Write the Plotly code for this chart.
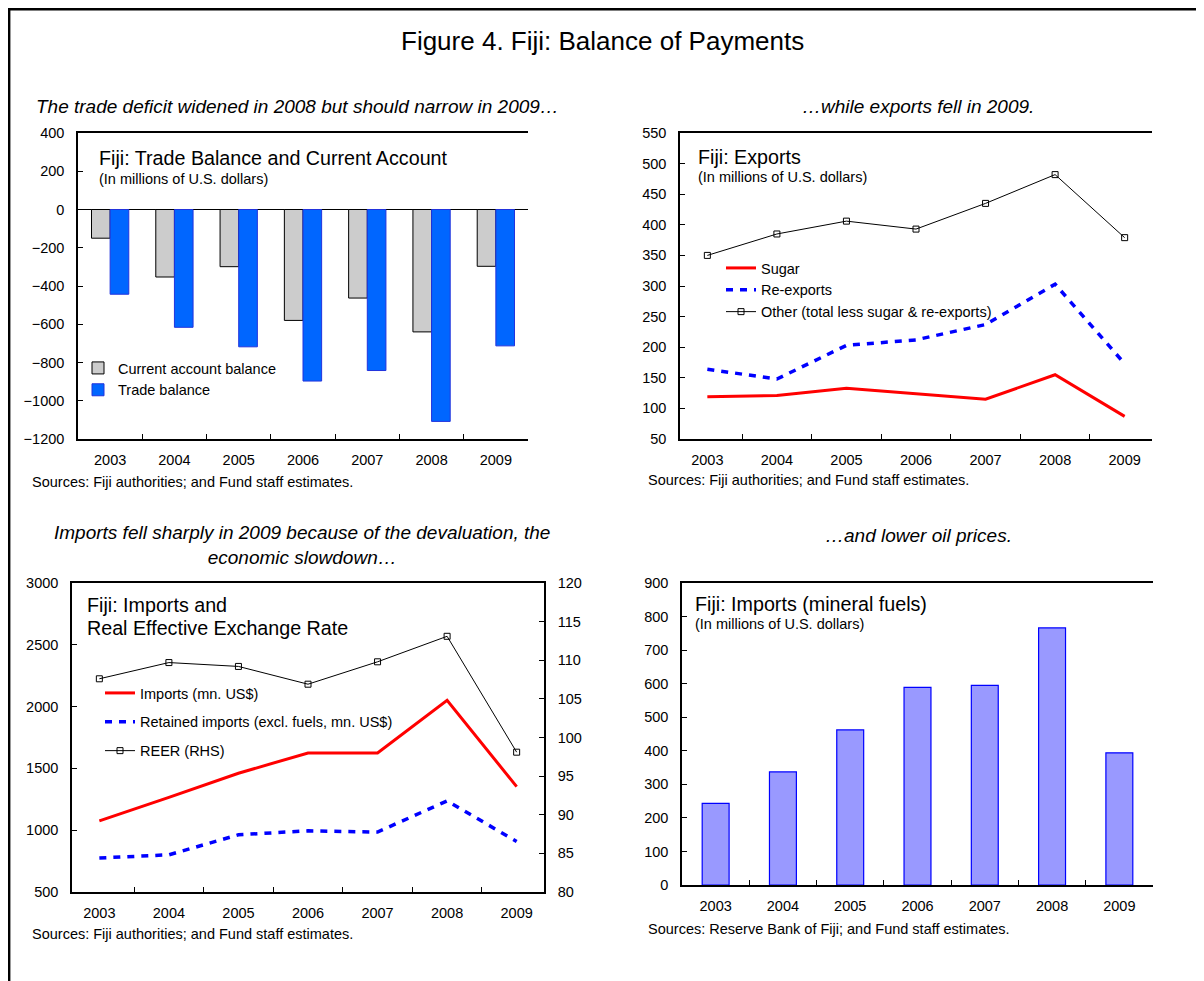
import plotly.graph_objects as go

# reference canvas size (the page adds an 8px body margin, compensated below)
REF_W, REF_H = 1204, 981
OFF = 8
W, H = REF_W - OFF, REF_H - OFF
FONT = "Arial, Liberation Sans, sans-serif"

years = ["2003", "2004", "2005", "2006", "2007", "2008", "2009"]

# Panel 1: Trade balance and current account (US$ mn)
current_account = [-150, -353, -299, -580, -463, -640, -297]
trade_balance = [-443, -616, -718, -897, -842, -1108, -713]

# Panel 2: Exports (US$ mn)
sugar = [119, 121, 133, 124, 115, 155, 87]
re_exports = [164, 148, 203, 212, 237, 303, 173]
other_exports = [350, 385, 406, 393, 435, 482, 379]

# Panel 3: Imports and REER
imports = [1076, 1265, 1461, 1625, 1625, 2050, 1353]
retained_imports = [775, 801, 963, 995, 985, 1237, 909]
reer = [107.6, 109.7, 109.2, 106.9, 109.8, 113.1, 98.1]

# Panel 4: Mineral fuel imports (US$ mn)
fuel_imports = [243, 337, 462, 589, 595, 766, 394]


def fx(x):
    return (x - OFF) / W


def fy(y):
    return 1 - (y - OFF) / H


SMALL = 14.5
DASH = "7px,7px"

fig = go.Figure()

# ---- Panel 1 ----
fig.add_trace(go.Bar(x=years, y=current_account, name="Current account balance",
                     marker=dict(color="#CCCCCC", line=dict(color="black", width=1)),
                     xaxis="x", yaxis="y", legend="legend", legendgroup="a"))
fig.add_trace(go.Bar(x=years, y=trade_balance, name="Trade balance",
                     marker=dict(color="#0066FF", line=dict(color="#2233DD", width=1)),
                     xaxis="x", yaxis="y", legend="legend", legendgroup="b"))

# ---- Panel 2 ----
fig.add_trace(go.Scatter(x=years, y=sugar, name="Sugar", mode="lines",
                         line=dict(color="#FF0000", width=3),
                         xaxis="x2", yaxis="y3", legend="legend2", legendgroup="c"))
fig.add_trace(go.Scatter(x=years, y=re_exports, name="Re-exports", mode="lines",
                         line=dict(color="#0000FF", width=3.5, dash=DASH),
                         xaxis="x2", yaxis="y3", legend="legend2", legendgroup="d"))
fig.add_trace(go.Scatter(x=years, y=other_exports, name="Other (total less sugar & re-exports)",
                         mode="lines+markers",
                         line=dict(color="black", width=1),
                         marker=dict(symbol="square-open", size=6, color="black", line=dict(width=1)),
                         xaxis="x2", yaxis="y3", legend="legend2", legendgroup="e"))

# ---- Panel 3 ----
fig.add_trace(go.Scatter(x=years, y=imports, name="Imports (mn. US$)", mode="lines",
                         line=dict(color="#FF0000", width=3),
                         xaxis="x3", yaxis="y5", legend="legend3", legendgroup="f"))
fig.add_trace(go.Scatter(x=years, y=retained_imports, name="Retained imports (excl. fuels, mn. US$)",
                         mode="lines", line=dict(color="#0000FF", width=3.5, dash=DASH),
                         xaxis="x3", yaxis="y5", legend="legend3", legendgroup="g"))
fig.add_trace(go.Scatter(x=years, y=reer, name="REER (RHS)", mode="lines+markers",
                         line=dict(color="black", width=1),
                         marker=dict(symbol="square-open", size=6, color="black", line=dict(width=1)),
                         xaxis="x3", yaxis="y6", legend="legend3", legendgroup="h"))

# ---- Panel 4 ----
fig.add_trace(go.Bar(x=years, y=fuel_imports, name="Mineral fuels", width=0.4,
                     marker=dict(color="#9999FF", line=dict(color="#0000FF", width=1.2)),
                     xaxis="x4", yaxis="y7", showlegend=False))

tickfont = dict(family=FONT, size=SMALL, color="black")


def xax(x0, x1, anchor):
    return dict(domain=[fx(x0), fx(x1)], anchor=anchor, type="category",
                categoryorder="array", categoryarray=years,
                tickson="boundaries", ticks="inside", ticklen=5, tickcolor="black",
                showline=True, linecolor="black", linewidth=1.5, mirror=True,
                showgrid=False, zeroline=False, tickfont=tickfont,
                ticklabelstandoff=7, automargin=False, fixedrange=True)


def yax(y0, y1, anchor, rng, dtick, side="left", overlaying=None, zeroline=False):
    d = dict(domain=[fy(y1), fy(y0)], anchor=anchor, range=rng, dtick=dtick,
             tick0=rng[0], side=side, ticks="inside", ticklen=5, tickcolor="black",
             showline=True, linecolor="black", linewidth=1.5,
             showgrid=False, zeroline=zeroline, zerolinecolor="black", zerolinewidth=1,
             tickfont=tickfont, ticklabelstandoff=9, automargin=False, fixedrange=True)
    if overlaying:
        d["overlaying"] = overlaying
    return d


P1 = (78, 528, 133, 439)
P2 = (680, 1152, 133, 439)
P3 = (72, 544, 583, 892)
P4 = (682, 1153, 583, 885)

fig.update_layout(
    xaxis=xax(P1[0], P1[1], "y"),
    yaxis=yax(P1[2], P1[3], "x", [-1200, 400], 200, zeroline=True),
    yaxis2=yax(P1[2], P1[3], "x", [-1200, 400], 200, side="right", overlaying="y"),
    xaxis2=xax(P2[0], P2[1], "y3"),
    yaxis3=yax(P2[2], P2[3], "x2", [50, 550], 50),
    yaxis4=yax(P2[2], P2[3], "x2", [50, 550], 50, side="right", overlaying="y3"),
    xaxis3=xax(P3[0], P3[1], "y5"),
    yaxis5=yax(P3[2], P3[3], "x3", [500, 3000], 500),
    yaxis6=yax(P3[2], P3[3], "x3", [80, 120], 5, side="right", overlaying="y5"),
    xaxis4=xax(P4[0], P4[1], "y7"),
    yaxis7=yax(P4[2], P4[3], "x4", [0, 900], 100),
    yaxis8=yax(P4[2], P4[3], "x4", [0, 900], 100, side="right", overlaying="y7"),
)

legfont = dict(family=FONT, size=SMALL, color="black")
fig.update_layout(
    legend=dict(x=fx(78), y=fy(352), xanchor="left", yanchor="top", font=legfont,
                bgcolor="rgba(0,0,0,0)", tracegroupgap=0, itemclick=False),
    legend2=dict(x=fx(721), y=fy(252), xanchor="left", yanchor="top", font=legfont,
                 bgcolor="rgba(0,0,0,0)", tracegroupgap=0, itemclick=False),
    legend3=dict(x=fx(100), y=fy(677), xanchor="left", yanchor="top", font=legfont,
                 bgcolor="rgba(0,0,0,0)", tracegroupgap=7, itemclick=False),
)

ann = []


def text(x, y, t, size, xanchor="left", italic=False):
    if italic:
        t = "<i>" + t + "</i>"
    ann.append(dict(x=fx(x), y=fy(y), xref="paper", yref="paper", text=t,
                    showarrow=False, xanchor=xanchor, yanchor="middle",
                    font=dict(family=FONT, size=size, color="black")))


text(602, 41, "Figure 4. Fiji: Balance of Payments", 26, "center")

text(297, 106, "The trade deficit widened in 2008 but should narrow in 2009…", 19, "center", True)
text(918, 106, "…while exports fell in 2009.", 19, "center", True)
text(302, 545, "Imports fell sharply in 2009 because of the devaluation, the<br>economic slowdown…", 19, "center", True)
text(918, 535, "…and lower oil prices.", 19, "center", True)

text(97, 158, "Fiji: Trade Balance and Current Account", 19.7)
text(97, 179, "(In millions of U.S. dollars)", SMALL)
text(696, 157, "Fiji: Exports", 19.7)
text(696, 177, "(In millions of U.S. dollars)", SMALL)
text(85, 605, "Fiji: Imports and", 19.7)
text(85, 628, "Real Effective Exchange Rate", 19.7)
text(693, 604, "Fiji: Imports (mineral fuels)", 19.7)
text(693, 624, "(In millions of U.S. dollars)", SMALL)

text(30, 482, "Sources: Fiji authorities; and Fund staff estimates.", SMALL)
text(646, 480, "Sources: Fiji authorities; and Fund staff estimates.", SMALL)
text(30, 934, "Sources: Fiji authorities; and Fund staff estimates.", SMALL)
text(646, 929, "Sources: Reserve Bank of Fiji; and Fund staff estimates.", SMALL)

# outer frame (top and left edges visible in the reference); drawn at the figure edge
fig.update_layout(
    annotations=ann,
    shapes=[
        dict(type="line", xref="paper", yref="paper", x0=0, x1=1.02,
             y0=1 - 1.2 / H, y1=1 - 1.2 / H, line=dict(color="black", width=2.4)),
        dict(type="line", xref="paper", yref="paper", x0=1.2 / W, x1=1.2 / W,
             y0=1, y1=-0.05, line=dict(color="black", width=2.4)),
    ],
    width=W, height=H,
    margin=dict(l=0, r=0, t=0, b=0, autoexpand=False),
    paper_bgcolor="white", plot_bgcolor="white",
    barmode="group", bargap=0.42, bargroupgap=0,
    font=dict(family=FONT, color="black"),
    hovermode=False,
)

fig.write_html("out.html")
